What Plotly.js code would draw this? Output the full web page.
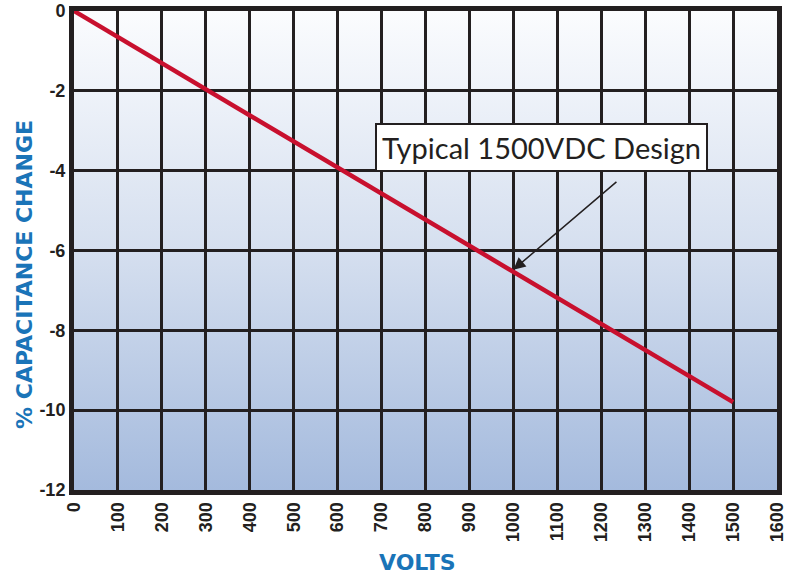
<!DOCTYPE html>
<html>
<head>
<meta charset="utf-8">
<script src="https://cdn.plot.ly/plotly-3.0.1.min.js"></script>
<style>html,body{margin:0;padding:0;background:#fff;}#chart{width:796px;height:575px;}</style>
</head>
<body>
<div id="chart"></div>
<script>
// Data
const volts = [0, 1500];
const capChange = [0, -9.8];
const xTicks = [0,100,200,300,400,500,600,700,800,900,1000,1100,1200,1300,1400,1500,1600];
const yTicks = [0,-2,-4,-6,-8,-10,-12];
const seriesName = 'Typical 1500VDC Design';
const xTitle = 'VOLTS';
const yTitle = '% CAPACITANCE CHANGE';
const arrowHead = [1000, -6.48];
const arrowTail = [1238, -4.25];
const labelPos = [1063, -3.42];

const gradSvg = "<svg xmlns='http://www.w3.org/2000/svg' width='100' height='100' preserveAspectRatio='none'><defs><linearGradient id='g' x1='0' y1='0' x2='0' y2='1'><stop offset='0' stop-color='#fbfcfe'/><stop offset='0.5' stop-color='#d5dfef'/><stop offset='1' stop-color='#a4badd'/></linearGradient></defs><rect width='100' height='100' fill='url(#g)'/></svg>";
const gradUri = 'data:image/svg+xml;charset=utf-8,' + encodeURIComponent(gradSvg);

const tickFont = {family: 'Liberation Sans, Arial, sans-serif', size: 18, color: '#231f20'};
const titleFont = {family: 'DejaVu Sans, sans-serif', size: 22, color: '#1a74b8'};

const trace = {
  x: volts, y: capChange, type: 'scatter', mode: 'lines', name: seriesName,
  line: {color: '#c8102e', width: 4.5}, hoverinfo: 'skip'
};

const layout = {
  width: 796, height: 575,
  margin: {l: 74, r: 19, t: 11, b: 85},
  paper_bgcolor: '#ffffff', plot_bgcolor: 'rgba(0,0,0,0)',
  showlegend: false,
  images: [{source: gradUri, xref: 'paper', yref: 'paper', x: 0, y: 1, sizex: 1, sizey: 1,
            sizing: 'stretch', layer: 'below', xanchor: 'left', yanchor: 'top'}],
  xaxis: {
    range: [0, 1600], tickvals: xTicks, ticktext: xTicks.map(v => '<b>' + v + '</b>'), tickangle: -90,
    showgrid: true, gridcolor: '#231f20', gridwidth: 3,
    showline: true, linecolor: '#231f20', linewidth: 5, mirror: true,
    ticks: '', tickfont: tickFont, zeroline: false, fixedrange: true
  },
  yaxis: {
    range: [-12, 0], tickvals: yTicks, ticktext: yTicks.map(v => '<b>' + v + '</b>'),
    showgrid: true, gridcolor: '#231f20', gridwidth: 3,
    showline: true, linecolor: '#231f20', linewidth: 5, mirror: true,
    ticks: '', tickfont: tickFont, zeroline: false, fixedrange: true
  },
  annotations: [
    {x: labelPos[0], y: labelPos[1], xref: 'x', yref: 'y', text: seriesName, showarrow: false,
     font: {family: 'Lato, Noto Sans, sans-serif', size: 29, color: '#231f20'},
     bgcolor: '#ffffff', bordercolor: '#231f20', borderwidth: 2, borderpad: 5},
    {x: arrowHead[0], y: arrowHead[1], xref: 'x', yref: 'y',
     ax: arrowTail[0], ay: arrowTail[1], axref: 'x', ayref: 'y',
     text: '', showarrow: true, arrowhead: 2, arrowsize: 1.6, arrowwidth: 1.5, arrowcolor: '#231f20'},
    {x: -0.0697, y: 0.449, xref: 'paper', yref: 'paper', xanchor: 'center', yanchor: 'middle',
     text: '<b>' + yTitle + '</b>', textangle: -90, showarrow: false, font: titleFont},
    {x: 0.489, y: -0.152, xref: 'paper', yref: 'paper', xanchor: 'center', yanchor: 'middle',
     text: '<b>' + xTitle + '</b>', showarrow: false, font: titleFont}
  ]
};

Plotly.newPlot('chart', [trace], layout, {displayModeBar: false, staticPlot: true});
</script>
</body>
</html>
